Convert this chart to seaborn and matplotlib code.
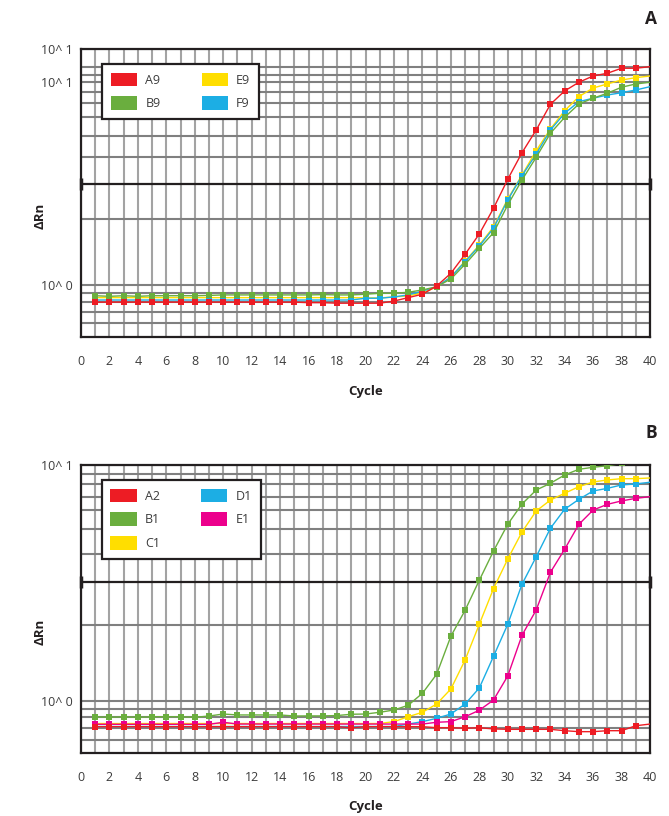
import matplotlib
matplotlib.use("Agg")
import matplotlib.pyplot as plt
import matplotlib.ticker as mticker
from matplotlib.patches import Patch
import numpy as np
import pandas as pd
import seaborn as sns

# ---------------- data ----------------
CYCLES = list(range(1, 41))

# Panel A
A_WELLS = ["A9", "B9", "E9", "F9"]
A9 = [0.82] * 15 + [0.815, 0.815, 0.81, 0.81, 0.81, 0.81, 0.83, 0.863, 0.897, 0.985,
                    1.138, 1.413, 1.78, 2.385, 3.318, 4.487, 5.81, 7.786, 9.06, 10.0,
                    10.74, 11.08, 11.73, 11.73, 11.94]
B9 = [0.882, 0.876, 0.882, 0.876, 0.882, 0.882, 0.882, 0.882, 0.885, 0.89,
      0.89, 0.89, 0.89, 0.89, 0.89, 0.89, 0.893, 0.89, 0.89, 0.897,
      0.907, 0.907, 0.917, 0.942, 0.977, 1.067, 1.261, 1.513, 1.806, 2.477,
      3.29, 4.26, 5.6, 6.71, 7.81, 8.34, 8.83, 9.45, 9.81, 10.0]
E9 = [0.863] * 19 + [0.86, 0.86, 0.87, 0.88, 0.91, 0.975, 1.09, 1.31, 1.57, 1.93,
                     2.65, 3.48, 4.59, 5.88, 7.24, 8.49, 9.37, 9.81, 10.26, 10.54, 10.74]
F9 = [0.84] * 19 + [0.857, 0.857, 0.87, 0.89, 0.93, 0.977, 1.09, 1.299, 1.553, 1.9,
                    2.62, 3.455, 4.42, 5.81, 7.03, 8.02, 8.34, 8.65, 8.88, 9.16, 9.51]
A_THRESHOLD = 3.14
A_GRID = [11.94, 10.87, 10.0, 8.99, 7.87, 6.77, 5.43, 4.27, 2.105, 1.0, 0.907, 0.824, 0.736, 0.645]
A_YLIM = (0.5496, 14.6)
A_YLABELS = {14.6: "10^ 1", 10.0: "10^ 1", 1.0: "10^ 0"}

# Panel B
B_WELLS = ["A2", "B1", "C1", "D1", "E1"]
A2 = [0.776] * 18 + [0.768, 0.776, 0.776, 0.776, 0.776, 0.776, 0.768, 0.768, 0.764, 0.768,
                     0.759, 0.756, 0.756, 0.756, 0.756, 0.746, 0.739, 0.739, 0.746, 0.746,
                     0.783, 0.796]
B1 = [0.855, 0.85, 0.855, 0.85, 0.855, 0.855, 0.855, 0.85, 0.861, 0.878,
      0.87, 0.87, 0.87, 0.87, 0.861, 0.862, 0.862, 0.865, 0.876, 0.878,
      0.893, 0.913, 0.956, 1.075, 1.294, 1.876, 2.418, 3.243, 4.316, 5.603,
      6.83, 7.83, 8.365, 9.07, 9.59, 9.78, 9.93, 10.15, 10.3, 10.4]
C1 = [0.80] * 21 + [0.815, 0.855, 0.893, 0.968, 1.121, 1.488, 2.11, 2.99, 3.99, 5.196,
                    6.38, 7.10, 7.59, 8.09, 8.47, 8.64, 8.75, 8.75, 8.81]
D1 = [0.777] * 22 + [0.796, 0.815, 0.842, 0.878, 0.968, 1.132, 1.543, 2.11, 3.118, 4.08,
                     5.39, 6.49, 7.15, 7.76, 7.96, 8.23, 8.31, 8.45]
E1 = [0.794] * 9 + [0.81] + [0.796] * 14 + [0.81, 0.815, 0.855, 0.911, 1.007, 1.273, 1.894,
                                            2.426, 3.506, 4.39, 5.60, 6.44, 6.81, 7.04, 7.22, 7.34]
B_THRESHOLD = 3.20
B_GRID = [9.13, 8.28, 7.34, 6.44, 5.34, 4.19, 2.10, 1.0, 0.919, 0.85, 0.768, 0.681]
B_YLIM = (0.6017, 10.0)
B_YLABELS = {10.0: "10^ 1", 1.0: "10^ 0"}

X_TICKS = list(range(0, 41, 2))

RED, GREEN, YELLOW, BLUE, MAGENTA = "#ED1C24", "#6AAE3E", "#FFDE00", "#1CAEE4", "#EC008C"
A_COLORS = {"A9": RED, "B9": GREEN, "E9": YELLOW, "F9": BLUE}
B_COLORS = {"A2": RED, "B1": GREEN, "C1": YELLOW, "D1": BLUE, "E1": MAGENTA}
A_DRAW_ORDER = ["E9", "F9", "B9", "A9"]
B_DRAW_ORDER = ["D1", "C1", "B1", "E1", "A2"]

# ---------------- style ----------------
sns.set_theme(style="white")
plt.rcParams["font.family"] = ["Open Sans", "DejaVu Sans"]
DARK = "#231f20"
TXT = "#3c3c3c"

fig = plt.figure(figsize=(6.69, 8.16), dpi=100)
ax1 = fig.add_axes([81 / 669, 1 - 337.3 / 816, 569 / 669, 288.3 / 816])
ax2 = fig.add_axes([81 / 669, 1 - 752.7 / 816, 569 / 669, 287.7 / 816])


def draw(ax, series, colors, order, wells, grid, ylim, thr, ylabels, legend_anchor):
    df = pd.DataFrame(
        [(w, c, v) for w, vals in series.items() for c, v in zip(CYCLES, vals)],
        columns=["Well", "Cycle", "dRn"],
    )
    sns.lineplot(data=df, x="Cycle", y="dRn", hue="Well", hue_order=order,
                 palette=colors, marker="s", markersize=5, markeredgewidth=0,
                 linewidth=1.0, markevery=list(range(39)), errorbar=None,
                 legend=False, ax=ax, zorder=3)
    ax.set_yscale("log")
    ax.set_ylim(*ylim)
    ax.set_xlim(0, 40)

    ticks = sorted(set(grid) | set(ylabels.keys()))
    ax.set_yticks(ticks)
    ax.set_yticklabels([ylabels.get(t, "") for t in ticks])
    ax.yaxis.set_minor_locator(mticker.NullLocator())
    ax.set_xticks(X_TICKS)
    ax.set_xticks([c for c in range(1, 40, 2)], minor=True)

    ax.set_axisbelow(True)
    ax.grid(axis="y", which="major", color="#808080", linewidth=1.5)
    ax.grid(axis="x", which="both", color="#a3a3a3", linewidth=1.5)

    ax.tick_params(axis="y", which="major", direction="out", length=3, width=1.5,
                   color=DARK, labelcolor=TXT, labelsize=9, pad=3)
    ax.tick_params(axis="x", which="major", direction="out", length=3, width=1.5,
                   color=DARK, labelcolor=TXT, labelsize=9, pad=10)
    ax.tick_params(axis="x", which="minor", length=0)
    for s in ax.spines.values():
        s.set_color(DARK)
        s.set_linewidth(1.6)
        s.set_visible(True)

    ax.axhline(thr, color=DARK, linewidth=1.6, zorder=2)
    ax.plot([0, 40], [thr, thr], linestyle="none", marker="|", markersize=8,
            markeredgewidth=2.5, color=DARK, clip_on=False, zorder=2)

    ax.set_xlabel("Cycle", fontweight="bold", fontsize=9.5, color=DARK)
    ax.set_ylabel("ΔRn", fontweight="bold", fontsize=9.5, color=DARK)
    ax.xaxis.set_label_coords(0.5, -0.166)
    ax.yaxis.set_label_coords(-0.06, 0.42)

    handles = [Patch(facecolor=colors[w], edgecolor="none", label=w) for w in wells]
    leg = ax.legend(handles=handles, ncol=2, loc="upper left", bbox_to_anchor=legend_anchor,
                    frameon=True, fancybox=False, edgecolor=DARK, framealpha=1,
                    fontsize=9, handlelength=2.1, handleheight=1.3, handletextpad=0.65,
                    columnspacing=3.3, labelspacing=0.78, borderpad=0.7, borderaxespad=0)
    leg.get_frame().set_linewidth(1.6)
    for t in leg.get_texts():
        t.set_color(TXT)


draw(ax1, {"A9": A9, "B9": B9, "E9": E9, "F9": F9}, A_COLORS, A_DRAW_ORDER, A_WELLS,
     A_GRID, A_YLIM, A_THRESHOLD, A_YLABELS, (0.0374, 0.948))
draw(ax2, {"A2": A2, "B1": B1, "C1": C1, "D1": D1, "E1": E1}, B_COLORS, B_DRAW_ORDER, B_WELLS,
     B_GRID, B_YLIM, B_THRESHOLD, B_YLABELS, (0.0364, 0.948))

fig.text(651 / 669, 1 - 19 / 816, "A", ha="center", va="center", fontsize=12.5,
         fontweight="bold", color=DARK)
fig.text(651 / 669, 1 - 433 / 816, "B", ha="center", va="center", fontsize=12.5,
         fontweight="bold", color=DARK)

fig.savefig("out.png", dpi=100)
